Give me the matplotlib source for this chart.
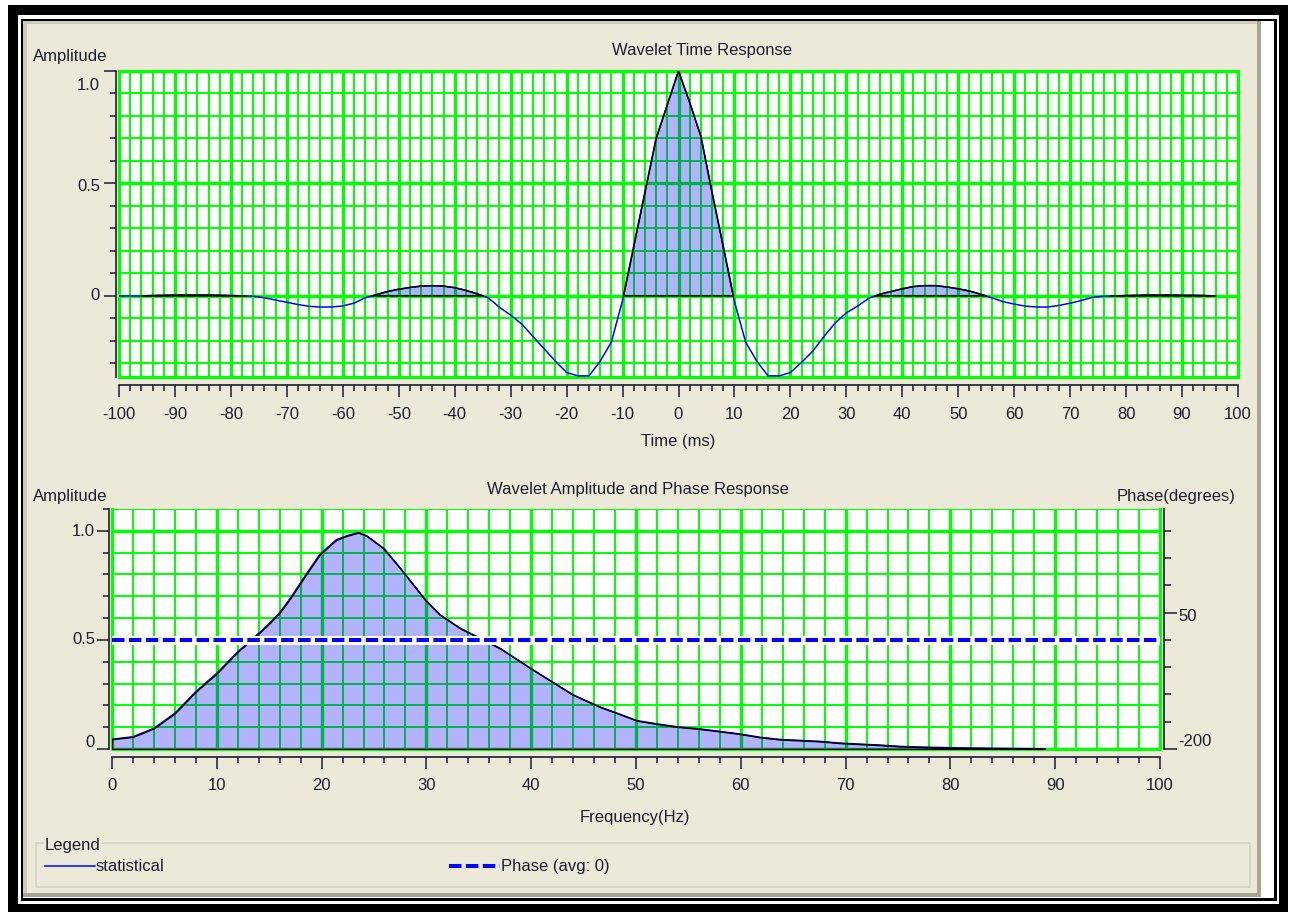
import matplotlib.pyplot as plt
from matplotlib.patches import Rectangle
from matplotlib.lines import Line2D
from matplotlib.ticker import MultipleLocator, FixedLocator, NullFormatter
from matplotlib.transforms import ScaledTranslation

plt.rcParams['font.family'] = ['Liberation Sans', 'DejaVu Sans']
plt.rcParams['axes.unicode_minus'] = False

# wavelet time samples, 2 ms apart
time_ms = list(range(-100, 97, 2))
time_amp = [
    0.0, 0.0, 0.0, 0.002, 0.003, 0.004, 0.004, 0.004, 0.004, 0.003,
    0.002, 0.0005, -0.001, -0.008, -0.018, -0.028, -0.038, -0.046, -0.049, -0.049,
    -0.044, -0.032, -0.008, 0.006, 0.02, 0.03, 0.038, 0.044, 0.046, 0.044,
    0.037, 0.025, 0.01, -0.008, -0.05, -0.085, -0.125, -0.18, -0.235, -0.29,
    -0.34, -0.355, -0.355, -0.29, -0.205, -0.02, 0.22, 0.46, 0.70, 0.85,
    1.0, 0.86, 0.71, 0.46, 0.22, -0.025, -0.205, -0.29, -0.355, -0.355,
    -0.34, -0.295, -0.245, -0.18, -0.12, -0.075, -0.045, -0.01, 0.008, 0.02,
    0.032, 0.042, 0.046, 0.046, 0.04, 0.032, 0.022, 0.008, -0.008, -0.025,
    -0.036, -0.045, -0.049, -0.049, -0.042, -0.032, -0.02, -0.006, -0.001, 0.0005,
    0.002, 0.003, 0.004, 0.004, 0.004, 0.003, 0.003, 0.002, 0.0,
]

# amplitude spectrum
freq_hz = [0, 2, 4, 6, 8, 10, 12, 14, 15, 16, 17, 18.6, 19.8, 21.4, 22.4, 23.5,
           24.3, 25.9, 27.5, 29.9, 31.3, 33.2, 35.1, 37, 40.2, 44, 46.6, 48.2,
           50.1, 52, 53.9, 56.1, 58.3, 59.9, 61.8, 63.7, 67.6, 69.5, 73.3,
           75.2, 78, 81, 85, 89]
freq_amp = [0.045, 0.056, 0.095, 0.164, 0.263, 0.347, 0.446, 0.53, 0.575, 0.625,
            0.69, 0.806, 0.89, 0.959, 0.977, 0.992, 0.977, 0.92, 0.829, 0.683,
            0.615, 0.554, 0.508, 0.462, 0.362, 0.248, 0.192, 0.164, 0.13, 0.115,
            0.102, 0.092, 0.079, 0.069, 0.054, 0.044, 0.035, 0.027, 0.018, 0.012,
            0.008, 0.005, 0.003, 0.001]
phase_avg = 0

amp_ticks = [0, 0.5, 1.0]
amp_labels = ['0', '0.5', '1.0']
phase_ticks = [-200, 50]
phase_labels = ['-200', '50']
phase_minor = [-150, -100, -50, 0, 100, 150, 200]

GREEN = '#00ff00'
INK = '#1c1c30'
BEIGE = '#ece9d8'
FILL = (0, 0, 1, 0.3)
FS = 12

W, H = 1290, 913
fig = plt.figure(figsize=(W / 100, H / 100), dpi=100)
fig.patch.set_facecolor('white')


def box(x0, y0, x1, y1, color, z=-10):
    fig.add_artist(Rectangle((x0 / W, 1 - y1 / H), (x1 - x0) / W, (y1 - y0) / H,
                             transform=fig.transFigure, facecolor=color,
                             edgecolor='none', zorder=z))


def ftext(x, y, s, **kw):
    fig.text(x / W, 1 - y / H, s, color=INK, fontsize=FS, va='center', **kw)


# window frame
box(8, 5, 1288, 912, 'black')
box(18, 15, 1279, 904, 'white')
box(21, 19, 1277, 901, 'black')
box(23, 21, 1274, 898, 'white')
box(23, 21, 1261, 897, '#a8a596')
box(23, 21, 1257, 893, BEIGE)
box(23, 21, 1257, 24, '#cfccbd')
box(23, 21, 27, 893, '#cfccbd')


def setup(ax, xmaj, xmin, ylo, yhi):
    ax.set_facecolor('white')
    ax.set_ylim(ylo, yhi)
    ax.xaxis.set_major_locator(MultipleLocator(xmaj))
    ax.xaxis.set_minor_locator(MultipleLocator(xmin))
    ax.yaxis.set_major_locator(MultipleLocator(0.5))
    ax.yaxis.set_minor_locator(MultipleLocator(0.1))
    ax.grid(which='major', color=GREEN, lw=2.4)
    ax.grid(which='minor', color=GREEN, lw=1.4)
    ax.set_axisbelow(True)
    for side in ('top', 'right'):
        ax.spines[side].set_visible(False)
    ax.spines['left'].set_position(('outward', 2))
    ax.spines['bottom'].set_position(('outward', 6))
    for side in ('left', 'bottom'):
        ax.spines[side].set_color(INK)
        ax.spines[side].set_linewidth(1.2)
    ax.tick_params(which='major', length=8.6, width=1.1, color=INK,
                   labelsize=FS, labelcolor=INK, pad=6)
    ax.tick_params(which='minor', length=4.6, width=1.1, color=INK)
    ax.tick_params(axis='y', labelleft=False)


def ylabels(ax, dx, nudges):
    for val, lab, dy in zip(amp_ticks, amp_labels, nudges):
        off = ScaledTranslation(dx / 100, -dy / 100, fig.dpi_scale_trans)
        ax.text(0, val, lab, transform=ax.get_yaxis_transform() + off,
                ha='right', va='center', fontsize=FS, color=INK)


# time response
ax1 = fig.add_axes([119 / W, 1 - 377 / H, (1238 - 119) / W, (377 - 71) / H])
ax1.set_xlim(-100, 100)
setup(ax1, 10, 2, -0.36, 1.0)
ax1.add_patch(Rectangle((0, 0), 1, 1, transform=ax1.transAxes, fill=False,
                        edgecolor=GREEN, lw=2.2, zorder=0.7, clip_on=False))
ax1.plot(time_ms, time_amp, color='blue', lw=1.1, zorder=2)
ax1.fill_between(time_ms, time_amp, 0, where=[a > 0 for a in time_amp],
                 interpolate=True, facecolor=FILL, edgecolor='black', lw=1.1,
                 zorder=3)
ax1.tick_params(axis='x', pad=7)
ylabels(ax1, -19, [0, 3, 14])

# amplitude and phase spectrum
ax2 = fig.add_axes([112 / W, 1 - 749 / H, (1160 - 112) / W, (749 - 509) / H])
ax2.set_xlim(0, 100)
setup(ax2, 10, 2, 0, 1.1)
ax2.add_line(Line2D([0, 0, 1, 1], [1, 0, 0, 1], transform=ax2.transAxes,
                    color=GREEN, lw=2.2, zorder=0.7, clip_on=False))
ax2.plot(freq_hz, freq_amp, color='blue', lw=1.1, zorder=2)
ax2.fill_between(freq_hz, freq_amp, 0, facecolor=FILL, edgecolor='black',
                 lw=1.1, zorder=3)
ylabels(ax2, -17, [-7, 0, 1])

axp = ax2.twinx()
axp.set_ylim(-200, 240)
axp.set_xlim(0, 100)
for side in ('top', 'left', 'bottom'):
    axp.spines[side].set_visible(False)
axp.spines['right'].set_position(('outward', 3))
axp.spines['right'].set_color(INK)
axp.spines['right'].set_linewidth(1.2)
axp.yaxis.set_major_locator(FixedLocator(phase_ticks))
axp.yaxis.set_minor_locator(FixedLocator(phase_minor))
axp.yaxis.set_major_formatter(NullFormatter())
axp.tick_params(which='major', length=9.2, width=1.1, color=INK)
axp.tick_params(which='minor', length=4.8, width=1.1, color=INK)
for val, lab, dy in zip(phase_ticks, phase_labels, [-8, 4]):
    off = ScaledTranslation(18 / 100, -dy / 100, fig.dpi_scale_trans)
    axp.text(1, val, lab, transform=axp.get_yaxis_transform() + off,
             ha='left', va='center', fontsize=FS, color=INK)
axp.axhline(phase_avg, color='white', lw=6.5, zorder=2)
axp.axhline(phase_avg, color='blue', lw=2.9, ls=(0, (3.1, 1.1)), zorder=3)

# titles and axis names
ftext(702, 50, 'Wavelet Time Response', ha='center')
ftext(33, 57, 'Amplitude', ha='left')
ftext(678, 441, 'Time (ms)', ha='center')
ftext(638, 489, 'Wavelet Amplitude and Phase Response', ha='center')
ftext(33, 496, 'Amplitude', ha='left')
ftext(1235, 496, 'Phase(degrees)', ha='right')
ftext(635, 817, 'Frequency(Hz)', ha='center')

# legend group box
fig.add_artist(Rectangle((36 / W, 1 - 887 / H), (1250 - 36) / W, (887 - 843) / H,
                         transform=fig.transFigure, facecolor='none',
                         edgecolor='#d6d3c6', lw=1.2, zorder=-5))
fig.text(45 / W, 1 - 845 / H, 'Legend', color=INK, fontsize=FS, va='center',
         bbox=dict(facecolor=BEIGE, edgecolor='none', pad=1))
fig.add_artist(Line2D([45 / W, 95 / W], [1 - 866 / H] * 2, transform=fig.transFigure,
                      color='blue', lw=1.1))
ftext(96, 866, 'statistical', ha='left')
fig.add_artist(Line2D([449 / W, 500 / W], [1 - 866 / H] * 2, transform=fig.transFigure,
                      color='blue', lw=2.9, ls=(0, (3.1, 1.1))))
ftext(501, 866, 'Phase (avg: 0)', ha='left')

fig.savefig('out.png', dpi=100, facecolor=fig.get_facecolor())
